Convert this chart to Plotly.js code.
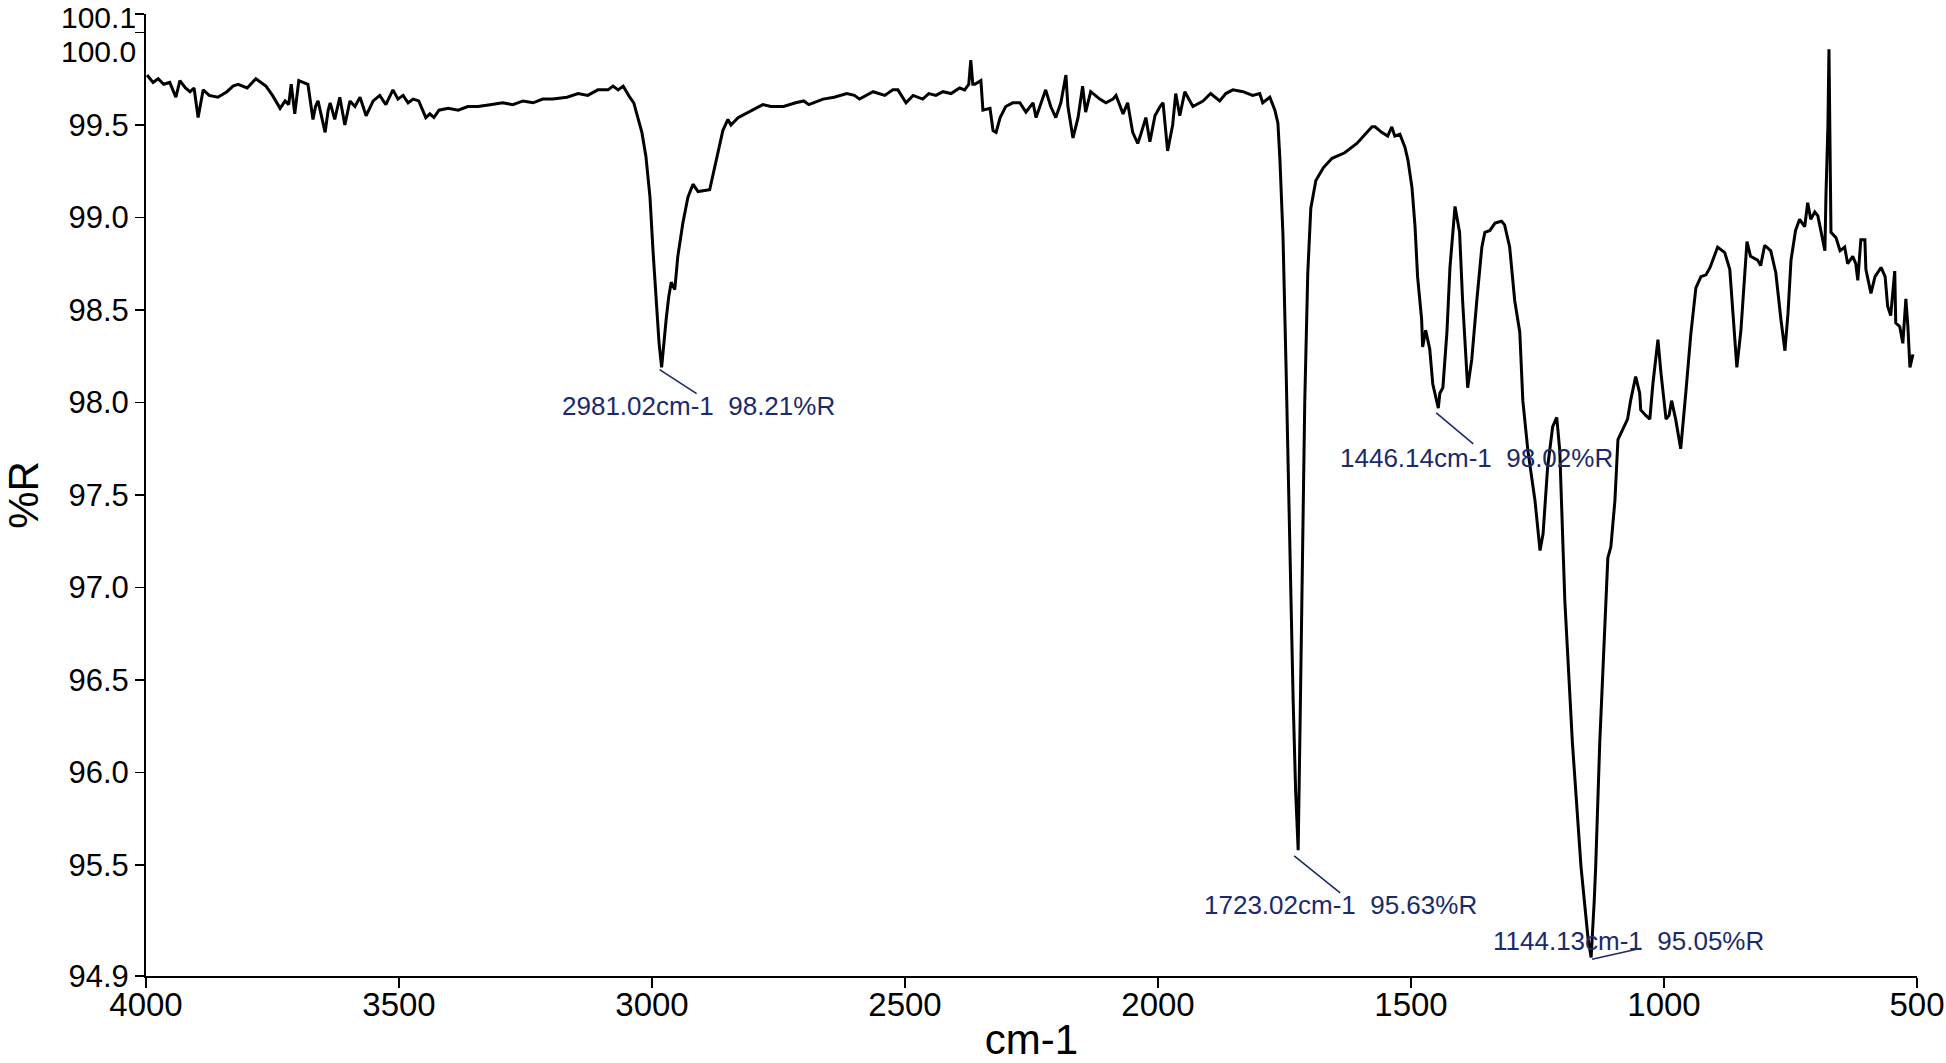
<!DOCTYPE html>
<html>
<head>
<meta charset="utf-8">
<script src="https://cdn.plot.ly/plotly-3.0.1.min.js"></script>
<style>
  html, body { margin: 0; padding: 0; background: #fff; }
  #chart { width: 1946px; height: 1063px; }
</style>
</head>
<body>
<div id="chart"></div>
<script>
// IR spectrum, wavenumber (cm-1) vs %R
const wavenumber = [
  3998, 3986, 3976, 3965, 3953, 3941, 3933, 3922, 3913, 3905, 3897, 3887, 3875, 3858, 3840, 3828,
  3818, 3800, 3783, 3772, 3763, 3750, 3735, 3725, 3718, 3713, 3706, 3698, 3690, 3680, 3670, 3665,
  3660, 3653, 3646, 3640, 3636, 3627, 3617, 3607, 3597, 3587, 3577, 3565, 3551, 3538, 3526, 3512,
  3502, 3492, 3482, 3472, 3461, 3447, 3439, 3431, 3421, 3403, 3383, 3364, 3344, 3320, 3295, 3275,
  3255, 3235, 3216, 3196, 3168, 3146, 3127, 3107, 3087, 3077, 3067, 3057, 3051, 3044, 3036, 3028,
  3020, 3012, 3004, 2998, 2992, 2986, 2981, 2977, 2972, 2967, 2962, 2955, 2949, 2939, 2929, 2919,
  2909, 2886, 2876, 2860, 2850, 2844, 2830, 2801, 2781, 2765, 2740, 2716, 2700, 2690, 2662, 2640,
  2615, 2600, 2590, 2563, 2540, 2524, 2514, 2498, 2484, 2465, 2453, 2439, 2425, 2409, 2392, 2382,
  2374, 2370, 2366, 2362, 2350, 2346, 2332, 2326, 2320, 2312, 2301, 2287, 2273, 2261, 2247, 2241,
  2231, 2222, 2212, 2202, 2192, 2182, 2178, 2168, 2158, 2149, 2143, 2133, 2115, 2103, 2089, 2083,
  2069, 2060, 2050, 2040, 2034, 2024, 2016, 2006, 1996, 1990, 1981, 1971, 1965, 1957, 1947, 1931,
  1911, 1896, 1878, 1866, 1852, 1832, 1813, 1799, 1793, 1779, 1769, 1763, 1759, 1753, 1747, 1740,
  1733, 1728, 1723, 1719, 1715, 1710, 1704, 1698, 1688, 1673, 1656, 1631, 1607, 1590, 1577, 1571,
  1558, 1546, 1538, 1532, 1522, 1512, 1506, 1498, 1492, 1487, 1479, 1477, 1471, 1463, 1457, 1446,
  1443, 1437, 1429, 1423, 1413, 1404, 1398, 1388, 1380, 1370, 1360, 1354, 1344, 1334, 1321, 1315,
  1305, 1295, 1285, 1279, 1269, 1255, 1245, 1239, 1230, 1220, 1212, 1206, 1202, 1196, 1181, 1164,
  1150, 1144, 1138, 1135, 1127, 1117, 1111, 1105, 1097, 1091, 1081, 1072, 1066, 1056, 1048, 1046,
  1036, 1028, 1022, 1012, 1006, 996, 990, 985, 977, 967, 957, 947, 937, 927, 917, 909,
  894, 880, 870, 864, 856, 848, 840, 836, 829, 815, 809, 801, 789, 779, 769, 761,
  755, 749, 740, 732, 722, 716, 710, 702, 696, 690, 682, 680, 676, 674, 672, 670,
  660, 652, 643, 637, 627, 621, 617, 611, 603, 601, 591, 583, 571, 563, 558, 552,
  544, 542, 534, 528, 522, 518, 514, 508
];
const percentR = [
  99.77, 99.73, 99.75, 99.72, 99.73, 99.65, 99.74, 99.70, 99.68, 99.70, 99.54, 99.69, 99.66, 99.65, 99.68, 99.71,
  99.72, 99.70, 99.75, 99.73, 99.71, 99.66, 99.59, 99.63, 99.61, 99.72, 99.56, 99.74, 99.73, 99.72, 99.53, 99.60,
  99.63, 99.55, 99.46, 99.58, 99.62, 99.53, 99.65, 99.50, 99.63, 99.60, 99.65, 99.55, 99.63, 99.66, 99.61, 99.69,
  99.64, 99.66, 99.62, 99.64, 99.63, 99.54, 99.56, 99.54, 99.58, 99.59, 99.58, 99.60, 99.60, 99.61, 99.62, 99.61,
  99.63, 99.62, 99.64, 99.64, 99.65, 99.67, 99.66, 99.69, 99.69, 99.71, 99.69, 99.71, 99.68, 99.65, 99.62, 99.54,
  99.46, 99.33, 99.11, 98.82, 98.57, 98.32, 98.19, 98.32, 98.45, 98.57, 98.65, 98.61, 98.79, 98.97, 99.11, 99.18,
  99.14, 99.15, 99.27, 99.47, 99.53, 99.50, 99.54, 99.58, 99.61, 99.60, 99.60, 99.62, 99.63, 99.61, 99.64, 99.65,
  99.67, 99.66, 99.64, 99.68, 99.66, 99.69, 99.69, 99.62, 99.66, 99.64, 99.67, 99.66, 99.68, 99.67, 99.70, 99.69,
  99.72, 99.85, 99.72, 99.72, 99.74, 99.58, 99.59, 99.47, 99.46, 99.54, 99.60, 99.62, 99.62, 99.57, 99.62, 99.54,
  99.62, 99.69, 99.60, 99.54, 99.62, 99.77, 99.60, 99.43, 99.54, 99.71, 99.57, 99.68, 99.64, 99.62, 99.64, 99.66,
  99.56, 99.62, 99.46, 99.40, 99.45, 99.54, 99.41, 99.55, 99.60, 99.62, 99.36, 99.50, 99.67, 99.55, 99.68, 99.60,
  99.63, 99.67, 99.63, 99.67, 99.69, 99.68, 99.66, 99.67, 99.62, 99.65, 99.58, 99.51, 99.31, 98.90, 98.20, 97.20,
  96.40, 95.90, 95.58, 96.30, 97.20, 98.00, 98.70, 99.05, 99.20, 99.27, 99.32, 99.35, 99.40, 99.45, 99.49, 99.49,
  99.46, 99.44, 99.49, 99.44, 99.45, 99.38, 99.31, 99.16, 98.95, 98.68, 98.45, 98.30, 98.39, 98.29, 98.10, 97.97,
  98.05, 98.08, 98.38, 98.73, 99.06, 98.92, 98.55, 98.08, 98.23, 98.55, 98.84, 98.92, 98.93, 98.97, 98.98, 98.96,
  98.84, 98.55, 98.38, 98.01, 97.74, 97.47, 97.20, 97.29, 97.65, 97.87, 97.92, 97.74, 97.38, 96.93, 96.16, 95.49,
  95.10, 95.00, 95.30, 95.49, 96.16, 96.83, 97.16, 97.22, 97.47, 97.80, 97.86, 97.91, 98.01, 98.14, 98.05, 97.96,
  97.93, 97.91, 98.10, 98.34, 98.16, 97.91, 97.93, 98.01, 97.91, 97.75, 98.05, 98.37, 98.62, 98.68, 98.69, 98.73,
  98.84, 98.81, 98.72, 98.48, 98.19, 98.39, 98.75, 98.87, 98.79, 98.77, 98.74, 98.85, 98.82, 98.70, 98.45, 98.28,
  98.48, 98.77, 98.93, 98.99, 98.95, 99.08, 98.99, 99.03, 99.01, 98.92, 98.82, 99.11, 99.50, 99.91, 99.40, 98.92,
  98.89, 98.82, 98.84, 98.75, 98.79, 98.75, 98.66, 98.88, 98.88, 98.72, 98.59, 98.68, 98.73, 98.68, 98.52, 98.47,
  98.71, 98.43, 98.41, 98.32, 98.56, 98.41, 98.19, 98.26
];

// labelled peaks
const peakWavenumber = [2981.02, 1446.14, 1723.02, 1144.13];
const peakPercentR = [98.21, 98.02, 95.63, 95.05];

const xTicks = [4000, 3500, 3000, 2500, 2000, 1500, 1000, 500];
const yTicks = [94.9, 95.5, 96.0, 96.5, 97.0, 97.5, 98.0, 98.5, 99.0, 99.5, 100.0, 100.1];
// the two top labels are placed by hand below (they crowd each other)
const yTickText = ['94.9', '95.5', '96.0', '96.5', '97.0', '97.5', '98.0', '98.5', '99.0', '99.5', '', ''];
const topLabels = [100.1, 100.0];
const topLabelShift = [-3, -19];

const FONT = 'Liberation Sans, Arial, sans-serif';
const NAVY = '#1b2a6b';

// pixel offsets for the peak labels and their leader lines
const labelShift = [[37, -42], [38, -59], [42, -64], [37, 7]];
const leader = [[-2, -6, 35, -30], [-2, -14, 35, -45], [-4, -15, 42, -52], [1, -11, 50, 0]];

const annotations = peakWavenumber.map((wn, i) => ({
    x: wn, y: peakPercentR[i], xref: 'x', yref: 'y',
    text: wn.toFixed(2) + 'cm-1\u00a0\u00a0' + peakPercentR[i].toFixed(2) + '%R',
    showarrow: false,
    xshift: labelShift[i][0], yshift: labelShift[i][1],
    font: { family: FONT, size: 26, color: NAVY }
}));
topLabels.forEach((v, i) => {
    annotations.push({
        x: 0, xref: 'paper', y: v, yref: 'y', text: v.toFixed(1),
        showarrow: false, xanchor: 'right', xshift: -9, yshift: topLabelShift[i],
        borderpad: 0,
        font: { family: FONT, size: 30, color: '#000' }
    });
});

const shapes = peakWavenumber.map((wn, i) => ({
    type: 'line', xref: 'x', yref: 'y',
    xsizemode: 'pixel', ysizemode: 'pixel',
    xanchor: wn, yanchor: peakPercentR[i],
    x0: leader[i][0], y0: leader[i][1], x1: leader[i][2], y1: leader[i][3],
    line: { color: NAVY, width: 1.6 }
}));

const trace = {
    x: wavenumber,
    y: percentR,
    type: 'scatter',
    mode: 'lines',
    line: { color: '#000', width: 3 },
    hoverinfo: 'x+y'
};

const layout = {
    width: 1946,
    height: 1063,
    margin: { l: 146, r: 29, t: 14, b: 87 },
    paper_bgcolor: '#fff',
    plot_bgcolor: '#fff',
    showlegend: false,
    font: { family: FONT, color: '#000' },
    xaxis: {
        range: [4000, 500],
        tickvals: xTicks,
        ticks: 'outside', ticklen: 10, tickwidth: 1.5, tickcolor: '#000',
        ticklabelstandoff: -12,
        showline: true, linecolor: '#000', linewidth: 2,
        showgrid: false, zeroline: false,
        tickfont: { family: FONT, size: 33, color: '#000' },
        title: { text: 'cm-1', font: { family: FONT, size: 42, color: '#000' }, standoff: 28 }
    },
    yaxis: {
        range: [94.9, 100.1],
        tickvals: yTicks,
        ticktext: yTickText,
        ticks: 'outside', ticklen: 9, tickwidth: 1.5, tickcolor: '#000',
        showline: true, linecolor: '#000', linewidth: 2,
        showgrid: false, zeroline: false,
        tickfont: { family: FONT, size: 31, color: '#000' },
        title: { text: '%R', font: { family: FONT, size: 42, color: '#000' }, standoff: 22 }
    },
    annotations: annotations,
    shapes: shapes
};

Plotly.newPlot('chart', [trace], layout, { displayModeBar: false, staticPlot: true });
</script>
</body>
</html>
